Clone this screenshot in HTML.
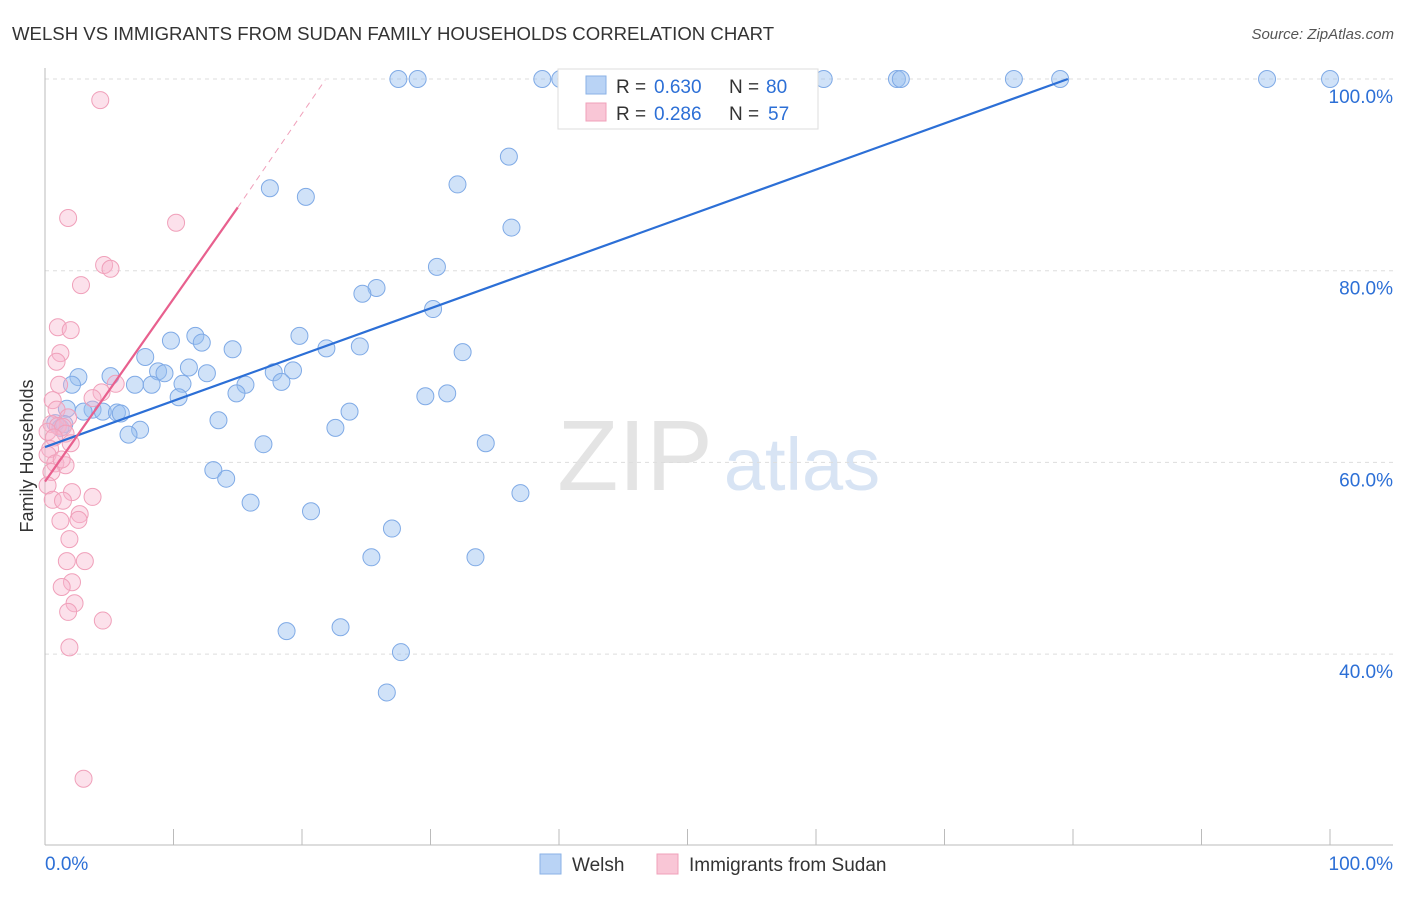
<!DOCTYPE html>
<html><head><meta charset="utf-8"><style>
body{margin:0;background:#fff;font-family:"Liberation Sans",sans-serif}
svg text{font-family:"Liberation Sans",sans-serif}
</style></head><body>
<svg id="c" width="1406" height="892" xmlns="http://www.w3.org/2000/svg">
<text x="12" y="40" font-size="18.6" fill="#333">WELSH VS IMMIGRANTS FROM SUDAN FAMILY HOUSEHOLDS CORRELATION CHART</text>
<text x="1394" y="39" font-size="15" fill="#555" font-style="italic" text-anchor="end">Source: ZipAtlas.com</text>
<text x="33" y="456" font-size="18" fill="#333" text-anchor="middle" transform="rotate(-90 33 456)">Family Households</text>
<g><text x="635" y="490" font-size="100" fill="#e4e4e4" text-anchor="middle" font-family="Liberation Serif,serif">ZIP</text><text x="802" y="490" font-size="74" fill="#d8e4f4" text-anchor="middle">atlas</text></g>
<g id="grid"></g><g id="axes"></g><g id="marks"></g>
<g>
<rect x="558" y="69" width="260" height="60" fill="#fff" stroke="#ddd"/>
<rect x="586" y="76" width="20" height="18" fill="#b9d3f5" stroke="#8ab1e6"/>
<rect x="586" y="103" width="20" height="18" fill="#f9c6d6" stroke="#f0a0ba"/>
<text x="616" y="93" font-size="19" fill="#333">R =</text><text x="654" y="93" font-size="19" fill="#2c6fd6">0.630</text>
<text x="729" y="93" font-size="19" fill="#333">N =</text><text x="766" y="93" font-size="19" fill="#2c6fd6">80</text>
<text x="616" y="120" font-size="19" fill="#333">R =</text><text x="654" y="120" font-size="19" fill="#2c6fd6">0.286</text>
<text x="729" y="120" font-size="19" fill="#333">N =</text><text x="768" y="120" font-size="19" fill="#2c6fd6">57</text>
</g>
<g>
<rect x="540" y="854" width="21" height="20" fill="#b9d3f5" stroke="#8ab1e6"/>
<text x="572" y="871" font-size="19" fill="#333">Welsh</text>
<rect x="657" y="854" width="21" height="20" fill="#f9c6d6" stroke="#f0a0ba"/>
<text x="689" y="871" font-size="19" fill="#333">Immigrants from Sudan</text>
</g>
</svg>
<script>
const yTicks=[100,80,60,40];
const yTickLabels=["100.0%","80.0%","60.0%","40.0%"];
const xTicks=[0,10,20,30,40,50,60,70,80,90,100];
const blueX=[27.5,29.0,38.7,40.1,41.2,47.5,54.1,60.6,66.3,66.6,75.4,79.0,95.1,100,36.1,32.1,17.5,20.3,36.3,30.5,25.8,24.7,30.2,11.7,9.8,12.2,19.8,14.6,21.9,24.5,32.5,7.8,11.2,8.8,9.3,12.6,17.8,19.3,5.1,2.6,2.1,7.0,8.3,10.7,15.6,18.4,10.4,14.9,29.6,31.3,1.7,3.7,4.5,5.6,5.9,3.0,23.7,13.5,0.8,1.2,1.5,7.4,6.5,22.6,17.0,34.3,13.1,14.1,37.0,16.0,20.7,27.0,25.4,33.5,18.8,23.0,27.7,26.6];
const blueY=[100,100,100,100,100,100,100,100,100,100,100,100,100,100,91.9,89.0,88.6,87.7,84.5,80.4,78.2,77.6,76.0,73.2,72.7,72.5,73.2,71.8,71.9,72.1,71.5,71.0,69.9,69.5,69.3,69.3,69.4,69.6,69.0,68.9,68.1,68.1,68.1,68.2,68.1,68.4,66.8,67.2,66.9,67.2,65.6,65.5,65.3,65.2,65.1,65.3,65.3,64.4,64.1,63.6,64.0,63.4,62.9,63.6,61.9,62.0,59.2,58.3,56.8,55.8,54.9,53.1,50.1,50.1,42.4,42.8,40.2,36.0];
const pinkX=[4.3,1.8,10.2,4.6,5.1,2.8,1.0,2.0,1.2,0.9,1.1,5.5,4.4,3.7,0.6,0.9,1.8,0.5,1.0,1.4,0.2,1.6,0.7,2.0,0.4,0.2,0.8,1.6,1.3,0.5,0.2,2.1,3.7,0.6,1.4,2.7,2.6,1.2,1.9,1.7,3.1,2.1,1.3,2.3,1.8,4.5,1.9,3.0];
const pinkY=[97.8,85.5,85.0,80.6,80.2,78.5,74.1,73.8,71.4,70.5,68.1,68.2,67.3,66.7,66.5,65.5,64.7,64.0,63.8,63.7,63.2,63.0,62.6,62.0,61.4,60.8,59.9,59.7,60.3,59.0,57.6,56.9,56.4,56.1,56.0,54.6,54.0,53.9,52.0,49.7,49.7,47.5,47.0,45.3,44.4,43.5,40.7,27.0];
const blueTrend=[[0,61.6],[79.6,100]];
const pinkTrend=[[0,58.0],[15.0,86.6]];
const pinkTrendExt=[[15.0,86.6],[21.8,99.9]];
const X=v=>45+v*12.85, Y=v=>79+(100-v)*9.585;
const NS="http://www.w3.org/2000/svg";
function mk(p,t,a){const e=document.createElementNS(NS,t);for(const k in a)e.setAttribute(k,a[k]);p.appendChild(e);return e;}
const g=document.getElementById('grid'),ax=document.getElementById('axes'),m=document.getElementById('marks');
yTicks.forEach((t,i)=>{
 const l=mk(g,'line',{x1:45,x2:1393,y1:Y(t),y2:Y(t),stroke:'#ddd','stroke-dasharray':'4,4'});
 
 
 const tx=mk(g,'text',{x:1393,y:Y(t)+24,'font-size':19,fill:'#2c6fd6','text-anchor':'end'});tx.textContent=yTickLabels[i];
 
 
});
mk(ax,'line',{x1:45,x2:45,y1:68,y2:845,stroke:'#bbb'});
mk(ax,'line',{x1:45,x2:1393,y1:845,y2:845,stroke:'#bbb'});
xTicks.forEach(t=>{const l=mk(ax,'line',{x1:X(t),x2:X(t),y1:829,y2:845,stroke:'#bbb'});
 
 });
let t0=mk(ax,'text',{x:45,y:870,'font-size':19,fill:'#2c6fd6'});t0.textContent='0.0%';


let t1=mk(ax,'text',{x:1393,y:870,'font-size':19,fill:'#2c6fd6','text-anchor':'end'});t1.textContent='100.0%';


blueX.forEach((x,i)=>{const c=mk(m,'circle',{cx:X(x),cy:Y(blueY[i]),r:8.5,fill:'rgba(150,190,240,0.45)',stroke:'#7faae6','stroke-width':1});
 
 });
pinkX.forEach((x,i)=>{const c=mk(m,'circle',{cx:X(x),cy:Y(pinkY[i]),r:8.5,fill:'rgba(248,180,205,0.4)',stroke:'#f0a0ba','stroke-width':1});
 
 });
const bl=mk(m,'line',{x1:X(blueTrend[0][0]),y1:Y(blueTrend[0][1]),x2:X(blueTrend[1][0]),y2:Y(blueTrend[1][1]),stroke:'#2c6fd6','stroke-width':2.2});


const pl=mk(m,'line',{x1:X(pinkTrend[0][0]),y1:Y(pinkTrend[0][1]),x2:X(pinkTrend[1][0]),y2:Y(pinkTrend[1][1]),stroke:'#e8608e','stroke-width':2.2});


const pd=mk(m,'line',{x1:X(pinkTrendExt[0][0]),y1:Y(pinkTrendExt[0][1]),x2:X(pinkTrendExt[1][0]),y2:Y(pinkTrendExt[1][1]),stroke:'#f0a0ba','stroke-width':1,'stroke-dasharray':'6,5'});


</script>
</body></html>
